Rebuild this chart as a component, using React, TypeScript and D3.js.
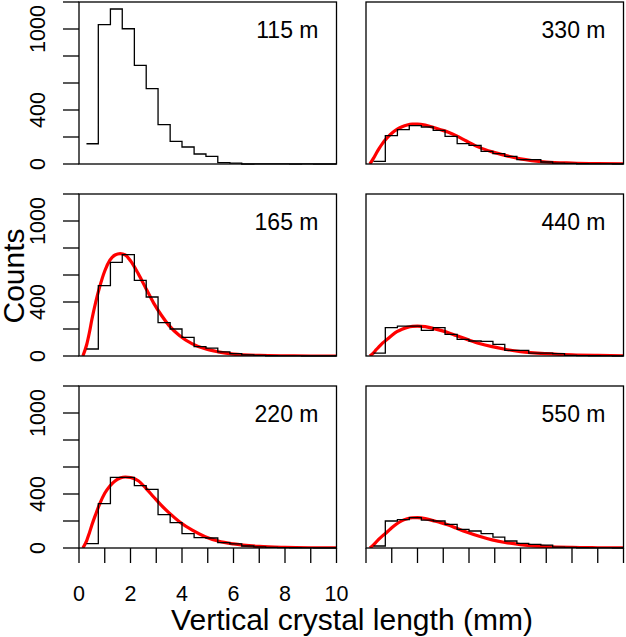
import { useEffect, useRef } from "react";
import * as d3 from "d3";

// bin left edges (mm)
const binEdges = [
  0.29, 0.75, 1.22, 1.68, 2.15, 2.61, 3.07, 3.54, 4.0, 4.47, 4.93, 5.39, 5.86,
  6.32, 6.79, 7.25, 7.71, 8.18, 8.64, 9.11, 9.57, 10.03,
];

const counts115 = [150, 1032, 1148, 1002, 731, 558, 291, 168, 126, 74, 57, 10, 7, 0, 1, 1, 1, 0, 1, 0, 0];
const counts165 = [52, 521, 694, 751, 560, 437, 247, 200, 138, 70, 59, 30, 17, 8, 4, 2, 1, 1, 0, 0, 0];
const counts220 = [32, 328, 523, 523, 462, 435, 247, 188, 106, 77, 74, 40, 30, 15, 8, 4, 3, 2, 1, 0, 0];
const counts330 = [20, 210, 254, 284, 274, 249, 205, 151, 138, 94, 77, 57, 32, 32, 15, 7, 4, 2, 1, 1, 0];
const counts440 = [22, 210, 222, 222, 190, 210, 160, 123, 111, 109, 86, 42, 42, 22, 22, 17, 5, 3, 2, 1, 0];
const counts550 = [15, 200, 210, 225, 207, 200, 175, 138, 126, 106, 81, 52, 35, 27, 22, 7, 4, 2, 1, 1, 0];

// fitted curves (red), sampled at these lengths
const curveX = [0.15, 0.3, 0.4, 0.5, 0.65, 0.8, 1.0, 1.2, 1.4, 1.6, 1.8, 2.0, 2.3, 2.6, 2.9, 3.2, 3.5, 3.9, 4.4, 4.9, 5.4, 6.0, 7.0, 8.0, 9.0, 10.0];
const fit165 = [0, 85, 170, 270, 400, 510, 630, 710, 748, 758, 748, 705, 610, 500, 392, 302, 225, 152, 90, 53, 31, 14, 4, 1, 0, 0];
const fit220 = [0, 55, 110, 170, 250, 325, 405, 460, 497, 518, 526, 522, 498, 442, 378, 315, 260, 195, 132, 84, 52, 30, 12, 5, 2, 1];
const fit330 = [0, 45, 80, 112, 155, 190, 228, 256, 276, 289, 295, 296, 288, 272, 254, 235, 210, 170, 123, 90, 64, 38, 15, 7, 3, 1];
const fit440 = [0, 25, 48, 68, 97, 120, 152, 180, 198, 212, 220, 222, 218, 205, 190, 173, 152, 125, 93, 69, 50, 33, 17, 8, 4, 2];
const fit550 = [0, 25, 45, 65, 92, 115, 150, 180, 203, 217, 224, 225, 218, 203, 188, 170, 148, 119, 87, 60, 41, 25, 10, 4, 2, 1];

const yTicks = [0, 200, 400, 600, 800, 1000, 1200];
const yLabels = [0, 400, 1000];
const xTicks = [0, 1, 2, 3, 4, 5, 6, 7, 8, 9, 10];
const xLabels = [0, 2, 4, 6, 8, 10];

const panels = [
  { label: "115 m", counts: counts115, fit: null as number[] | null, col: 0, row: 0 },
  { label: "330 m", counts: counts330, fit: fit330, col: 1, row: 0 },
  { label: "165 m", counts: counts165, fit: fit165, col: 0, row: 1 },
  { label: "440 m", counts: counts440, fit: fit440, col: 1, row: 1 },
  { label: "220 m", counts: counts220, fit: fit220, col: 0, row: 2 },
  { label: "550 m", counts: counts550, fit: fit550, col: 1, row: 2 },
];

const W = 626;
const H = 637;
const colX = [79, 366];
const rowY = [2, 194, 386];
const panelW = 257.5;
const panelH = 162;
const FONT = "'Liberation Sans', Arial, Helvetica, sans-serif";

export default function App() {
  const svgRef = useRef<SVGSVGElement>(null);

  useEffect(() => {
    if (!svgRef.current) return;
    const svg = d3.select(svgRef.current);
    svg.selectAll("*").remove();

    svg.append("rect").attr("width", W).attr("height", H).attr("fill", "white");

    panels.forEach((p, pi) => {
      const x0 = colX[p.col];
      const y0 = rowY[p.row];
      const x = d3.scaleLinear().domain([0, 10]).range([x0, x0 + panelW]).clamp(true);
      const y = d3.scaleLinear().domain([0, 1200]).range([y0 + panelH, y0]);
      const g = svg.append("g");

      const clipId = `clip-${pi}`;
      g.append("clipPath")
        .attr("id", clipId)
        .append("rect")
        .attr("x", x0)
        .attr("y", y0)
        .attr("width", panelW)
        .attr("height", panelH);

      // fitted curve
      if (p.fit) {
        const line = d3
          .line<number>()
          .x((_, i) => x(curveX[i]))
          .y((d) => y(d))
          .curve(d3.curveMonotoneX);
        g.append("path")
          .attr("d", line(p.fit))
          .attr("clip-path", `url(#${clipId})`)
          .attr("fill", "none")
          .attr("stroke", "#ff0000")
          .attr("stroke-width", 3.2)
          .attr("stroke-linejoin", "round");
      }

      // histogram as a step outline
      const n = p.counts.length;
      const pts: [number, number][] = p.counts.map((c, i) => [binEdges[i], c]);
      pts.push([binEdges[n], p.counts[n - 1]]);
      const step = d3
        .line<[number, number]>()
        .x((d) => x(d[0]))
        .y((d) => y(d[1]))
        .curve(d3.curveStepAfter);
      g.append("path")
        .attr("d", step(pts))
        .attr("fill", "none")
        .attr("stroke", "black")
        .attr("stroke-width", 1.3);

      // box
      g.append("rect")
        .attr("x", x0)
        .attr("y", y0)
        .attr("width", panelW)
        .attr("height", panelH)
        .attr("fill", "none")
        .attr("stroke", "black")
        .attr("stroke-width", 1.3);

      // y axis (left column only)
      if (p.col === 0) {
        g.selectAll(".ytick")
          .data(yTicks)
          .enter()
          .append("line")
          .attr("x1", x0 - 16)
          .attr("x2", x0)
          .attr("y1", (d) => y(d))
          .attr("y2", (d) => y(d))
          .attr("stroke", "black")
          .attr("stroke-width", 1.3);
        g.selectAll(".ylab")
          .data(yLabels)
          .enter()
          .append("text")
          .attr("transform", (d) => `translate(45,${y(d)}) rotate(-90)`)
          .attr("text-anchor", "middle")
          .attr("font-family", FONT)
          .attr("font-size", 21.5)
          .text((d) => String(d));
      }

      // x axis (bottom row only)
      if (p.row === 2) {
        g.selectAll(".xtick")
          .data(xTicks)
          .enter()
          .append("line")
          .attr("x1", (d) => x(d))
          .attr("x2", (d) => x(d))
          .attr("y1", y0 + panelH)
          .attr("y2", y0 + panelH + 15)
          .attr("stroke", "black")
          .attr("stroke-width", 1.3);
        if (p.col === 0) {
          g.selectAll(".xlab")
            .data(xLabels)
            .enter()
            .append("text")
            .attr("x", (d) => x(d))
            .attr("y", 601)
            .attr("text-anchor", "middle")
            .attr("font-family", FONT)
            .attr("font-size", 21.5)
            .text((d) => String(d));
        }
      }

      // depth label
      g.append("text")
        .attr("x", x0 + panelW - 18)
        .attr("y", y0 + 36)
        .attr("text-anchor", "end")
        .attr("font-family", FONT)
        .attr("font-size", 23)
        .text(p.label);
    });

    // axis titles
    svg
      .append("text")
      .attr("transform", "translate(24,276) rotate(-90)")
      .attr("text-anchor", "middle")
      .attr("font-family", FONT)
      .attr("font-size", 30)
      .text("Counts");

    svg
      .append("text")
      .attr("x", 352)
      .attr("y", 630)
      .attr("text-anchor", "middle")
      .attr("font-family", FONT)
      .attr("font-size", 30)
      .text("Vertical crystal length (mm)");
  }, []);

  return (
    <svg
      ref={svgRef}
      width={W}
      height={H}
      style={{ position: "absolute", left: 0, top: 0 }}
    />
  );
}
